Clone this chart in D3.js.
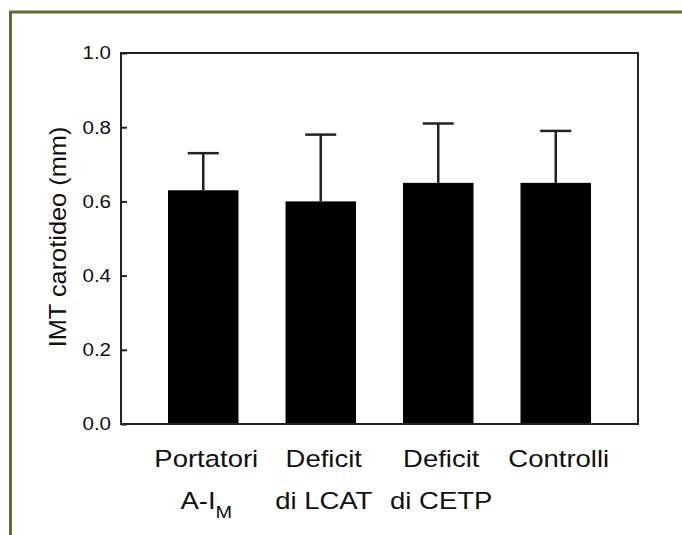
<!DOCTYPE html>
<html>
<head>
<meta charset="utf-8">
<script src="https://cdn.jsdelivr.net/npm/d3@7"></script>
<style>
  body { margin: 0; background: #fff; }
  svg { display: block; font-family: "Liberation Sans", Arial, sans-serif; }
</style>
</head>
<body>
<div id="chart"></div>
<script>
// Data
const groups = ["Portatori A-IM", "Deficit di LCAT", "Deficit di CETP", "Controlli"];
const labelLine1 = ["Portatori", "Deficit", "Deficit", "Controlli"];
const labelLine2 = ["A-I", "di LCAT", "di CETP", ""];
const labelSub = ["M", "", "", ""];
const means = [0.63, 0.60, 0.65, 0.65];
const upperErr = [0.73, 0.78, 0.81, 0.79];
const yTicks = [0.0, 0.2, 0.4, 0.6, 0.8, 1.0];

const WIDTH = 682;
const HEIGHT = 535;
const plot = { left: 121, right: 638, top: 53, bottom: 424 };

const svg = d3.select("#chart")
  .append("svg")
  .attr("width", WIDTH)
  .attr("height", HEIGHT);

// olive outer frame (runs off the right and bottom edges)
svg.append("rect")
  .attr("x", 10.5)
  .attr("y", 12)
  .attr("width", WIDTH + 20)
  .attr("height", HEIGHT + 20)
  .attr("fill", "none")
  .attr("stroke", "#67672f")
  .attr("stroke-width", 3);

const x = d3.scaleBand()
  .domain(groups)
  .range([plot.left, plot.right])
  .paddingInner(0.4)
  .paddingOuter(0.4);

const y = d3.scaleLinear()
  .domain([0, 1])
  .range([plot.bottom, plot.top]);

// bars
svg.selectAll(".bar")
  .data(groups)
  .enter()
  .append("rect")
  .attr("class", "bar")
  .attr("x", (d) => x(d))
  .attr("y", (d, i) => y(means[i]))
  .attr("width", x.bandwidth())
  .attr("height", (d, i) => y(0) - y(means[i]))
  .attr("fill", "#000");

// error bars (upper only)
const capHalf = 15.5;
const err = svg.selectAll(".err")
  .data(groups)
  .enter()
  .append("g")
  .attr("class", "err")
  .attr("stroke", "#222")
  .attr("stroke-width", 2.5);

err.append("line")
  .attr("x1", (d) => x(d) + x.bandwidth() / 2)
  .attr("x2", (d) => x(d) + x.bandwidth() / 2)
  .attr("y1", (d, i) => y(means[i]))
  .attr("y2", (d, i) => y(upperErr[i]));

err.append("line")
  .attr("x1", (d) => x(d) + x.bandwidth() / 2 - capHalf)
  .attr("x2", (d) => x(d) + x.bandwidth() / 2 + capHalf)
  .attr("y1", (d, i) => y(upperErr[i]))
  .attr("y2", (d, i) => y(upperErr[i]));

// y axis with inward ticks
const yAxis = svg.append("g")
  .attr("transform", `translate(${plot.left},0)`)
  .call(
    d3.axisLeft(y)
      .tickValues(yTicks)
      .tickFormat(d3.format(".1f"))
      .tickSizeInner(-6)
      .tickSizeOuter(0)
      .tickPadding(10)
  );

yAxis.select(".domain").remove();
yAxis.selectAll(".tick line").attr("stroke", "#222").attr("stroke-width", 2);
yAxis.selectAll(".tick text")
  .style("font-size", "18.5px")
  .attr("fill", "#111")
  .each(function () {
    const t = d3.select(this);
    const tx = +t.attr("x");
    t.attr("x", 0).attr("transform", `translate(${tx},0) scale(1.11,1)`);
  });

// plot box
svg.append("rect")
  .attr("x", plot.left)
  .attr("y", plot.top)
  .attr("width", plot.right - plot.left)
  .attr("height", plot.bottom - plot.top)
  .attr("fill", "none")
  .attr("stroke", "#222")
  .attr("stroke-width", 2);

// category labels
const labels = svg.selectAll(".cat")
  .data(groups)
  .enter()
  .append("g")
  .attr("class", "cat")
  .attr("transform", (d) => `translate(${x(d) + x.bandwidth() / 2 + 3},0) scale(1.17,1)`)
  .style("font-size", "23.5px")
  .attr("fill", "#111")
  .attr("text-anchor", "middle");

labels.append("text")
  .attr("y", 467)
  .text((d, i) => labelLine1[i]);

labels.append("text")
  .attr("y", 509)
  .call((text) => {
    text.append("tspan").text((d, i) => labelLine2[i]);
    text.append("tspan")
      .attr("dy", 9)
      .style("font-size", "17px")
      .text((d, i) => labelSub[i]);
  });

// y axis title
svg.append("text")
  .attr("text-anchor", "middle")
  .attr("transform", "translate(66,237) rotate(-90) scale(1.08,1)")
  .style("font-size", "23.5px")
  .attr("fill", "#111")
  .text("IMT carotideo (mm)");
</script>
</body>
</html>
